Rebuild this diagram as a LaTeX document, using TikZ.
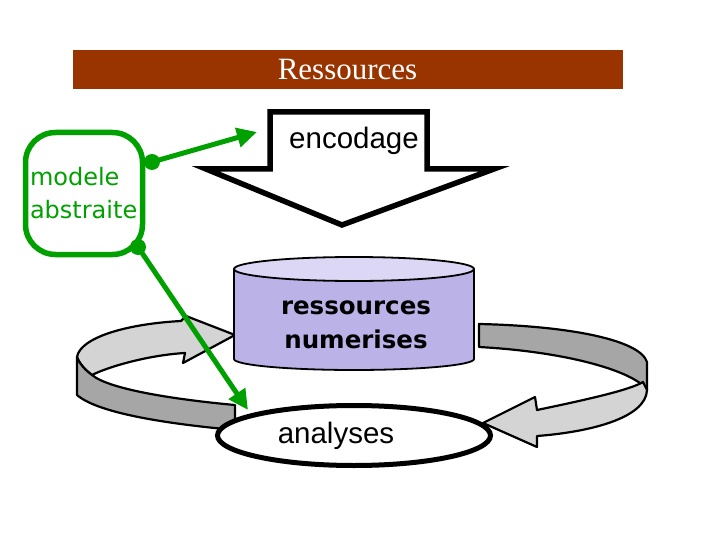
\documentclass[tikz,border=0pt]{standalone}
\usepackage{fontspec}
\setmainfont{Liberation Serif}
\setsansfont{Liberation Sans}
\newfontfamily\dejavu{DejaVu Sans}
\usetikzlibrary{arrows.meta,shapes.geometric}

\definecolor{brique}{RGB}{153,51,0}
\definecolor{vert}{RGB}{0,160,0}
\definecolor{lilas}{RGB}{187,179,232}
\definecolor{lilasclair}{RGB}{220,215,245}
\definecolor{grisfonce}{RGB}{166,166,166}
\definecolor{grisclair}{RGB}{212,212,212}

\begin{document}
\begin{tikzpicture}[x=1pt,y=-1pt,
  ribbon/.style={draw=black,line width=2.2pt,line join=round},
  dark face/.style={ribbon,fill=grisfonce},
  light face/.style={ribbon,fill=grisclair},
  green link/.style={draw=vert,line width=5pt,-{Triangle[length=20pt,width=19pt]}},
  label font/.style={font=\sffamily\fontsize{29.5}{34}\selectfont}]

  \useasboundingbox (0,0) rectangle (720,540);

  % title bar
  \node[fill=brique,minimum width=550pt,minimum height=39pt,inner sep=0pt,
    text=white,font=\fontsize{31}{36}\selectfont] (banner) at (347.5,69.5) {Ressources};

  % left circular arrow
  \filldraw[light face] (77,357) .. controls (80,338) and (125,324) .. (181,321)
    -- (186,316) -- (235,335) -- (183,363) -- (185,353)
    .. controls (150,355) and (110,366) .. (92,375)
    .. controls (85,370) and (79,363) .. (77,357) -- cycle;
  \filldraw[dark face] (77,357) -- (77,395) .. controls (100,415) and (180,425) .. (235,430)
    -- (235,405) .. controls (180,400) and (110,390) .. (92,375)
    .. controls (85,370) and (79,363) .. (77,357) -- cycle;

  % right circular arrow
  \filldraw[dark face] (479,324) .. controls (570,326) and (640,340) .. (647,362)
    -- (647,390) .. controls (635,372) and (570,352) .. (479,347) -- cycle;
  \filldraw[light face] (647,390) .. controls (646,418) and (590,432) .. (537,436)
    -- (537,447) -- (483,423) -- (535,397) -- (537,410)
    .. controls (585,400) and (630,390) .. (643,382) -- (647,390) -- cycle;

  % digitised resources (cylinder)
  \filldraw[fill=lilas,line width=1.8pt] (234,269) -- (234,359)
    arc[start angle=180,end angle=360,x radius=120pt,y radius=11pt] -- (474,269);
  \filldraw[fill=lilasclair,line width=1.8pt] (354,269) ellipse[x radius=120pt,y radius=12pt];
  \node[font=\dejavu\bfseries\fontsize{24.5}{34}\selectfont,align=center] (numeric) at (356,325)
    {ressources\\numerises};

  % analyses
  \node[ellipse,draw,line width=5pt,fill=white,minimum width=273pt,minimum height=60pt,
    label={[label font,xshift=-18pt]center:analyses}] (analyses) at (354,435.5) {};

  % encoding block arrow
  \filldraw[fill=white,line width=5.5pt] (270,112) -- (427,112) -- (427,169) -- (494,169)
    -- (342,225) -- (206,169) -- (270,169) -- cycle;
  \node[label font] (encodage) at (354,141) {encodage};

  % abstract model
  \node[draw=vert,line width=5.5pt,rounded corners=30pt,minimum width=117pt,minimum height=122pt,
    text width=108pt,align=left,text=vert,font=\dejavu\fontsize{24}{33}\selectfont]
    (model) at (84,193.5) {modele\\abstraite};

  \coordinate (dotA) at (152,162);
  \coordinate (dotB) at (138,247);
  \coordinate (toEncodage) at (257,132);
  \coordinate (toAnalyses) at (248,410);

  \draw[green link] (dotA) -- (toEncodage);
  \draw[green link] (dotB) -- (toAnalyses);
  \fill[vert] (dotA) circle[radius=8pt];
  \fill[vert] (dotB) circle[radius=8pt];
\end{tikzpicture}
\end{document}
